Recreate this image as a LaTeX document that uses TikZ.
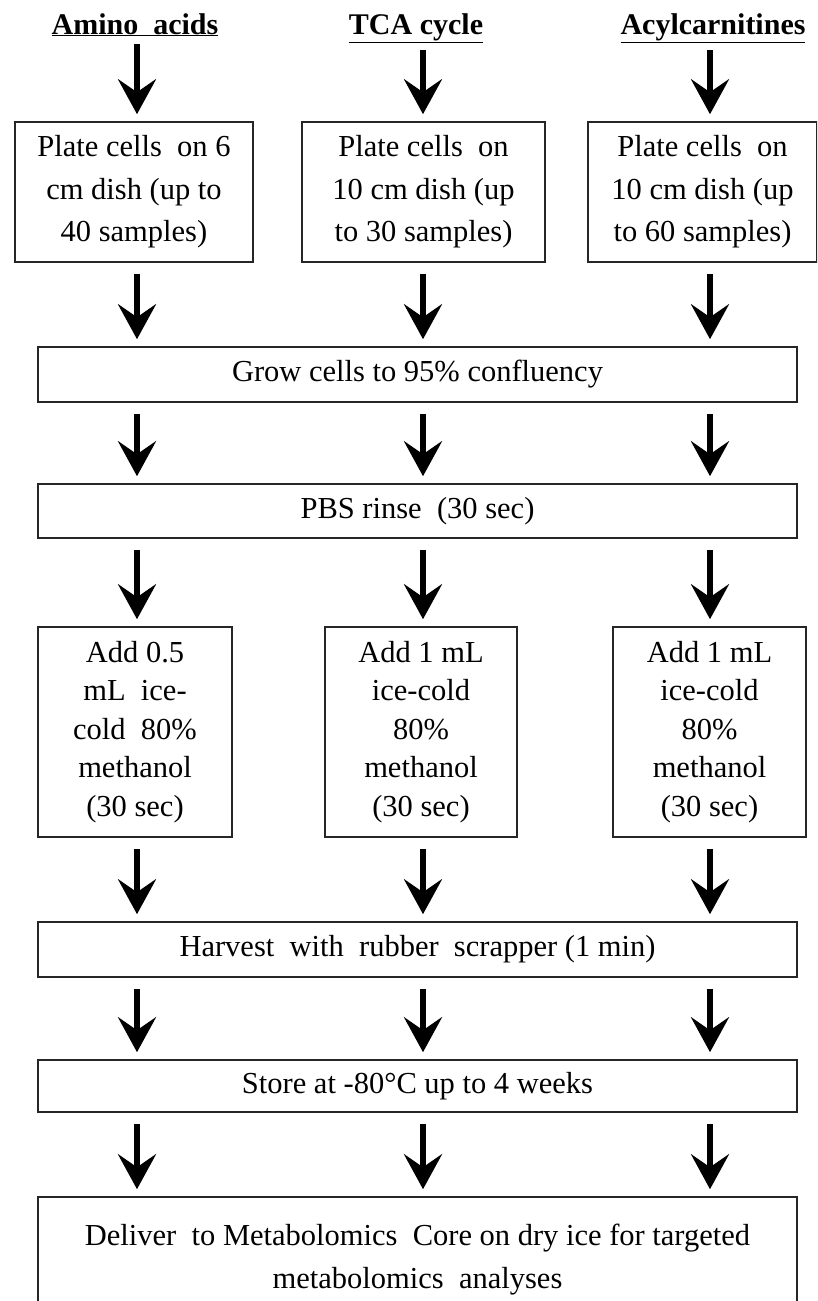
\documentclass[tikz,border=0pt]{standalone}
\usepackage{fontspec}
\setmainfont{Liberation Serif}
\usetikzlibrary{arrows.meta,calc}
\tikzset{
  stepbox/.style={draw=black!85, line width=1.6pt, rectangle, align=center, inner sep=0pt,
    font=\fontsize{30.5}{42.5}\selectfont},
  narrowbox/.style={stepbox, font=\fontsize{30.5}{38.5}\selectfont},
  header/.style={anchor=base, font=\fontsize{30}{32}\selectfont\bfseries},
  arr/.style={line width=6.5pt, -{Stealth[length=35pt,width=38pt,inset=13pt]}, shorten <=11pt, shorten >=7pt}
}
\begin{document}
\begin{tikzpicture}[x=1pt,y=-1pt]
\useasboundingbox (0,0) rectangle (817,1301);
\clip (0,0) rectangle (817,1301);
\fill[white] (0,0) rectangle (817,1301);
\coordinate (c1) at (137,0);
\coordinate (c2) at (423,0);
\coordinate (c3) at (710,0);
% headers
\node[header] (h1) at (135,34) {\underline{Amino\ \ acids}};
\node[header] (h2) at (416,34) {\underline{TCA cycle}};
\node[header] (h3) at (713,34) {\underline{Acylcarnitines}};
% top boxes
\node[stepbox, minimum width=238pt, minimum height=140pt] (p1) at (134,192) {Plate cells\ \ on 6\\cm dish (up to\\40 samples)};
\node[stepbox, minimum width=243pt, minimum height=140pt] (p2) at (423.5,192) {Plate cells\ \ on\\10 cm dish (up\\to 30 samples)};
\node[stepbox, minimum width=229pt, minimum height=140pt] (p3) at (702.5,192) {Plate cells\ \ on\\10 cm dish (up\\to 60 samples)};
% wide boxes
\node[stepbox, minimum width=759pt, minimum height=55pt] (grow) at (417.5,374.5) {Grow cells to 95\% confluency};
\node[stepbox, minimum width=759pt, minimum height=54pt] (pbs) at (417.5,511) {PBS rinse\ \ (30 sec)};
% add boxes
\node[narrowbox, minimum width=194pt, minimum height=210pt] (a1) at (135,732) {Add 0.5\\mL\ \ ice-\\cold\ \ 80\%\\methanol\\(30 sec)};
\node[narrowbox, minimum width=192pt, minimum height=210pt] (a2) at (421,732) {Add 1 mL\\ice-cold\\80\%\\methanol\\(30 sec)};
\node[narrowbox, minimum width=193pt, minimum height=210pt] (a3) at (709.5,732) {Add 1 mL\\ice-cold\\80\%\\methanol\\(30 sec)};
% lower boxes
\node[stepbox, minimum width=759pt, minimum height=55pt] (harv) at (417.5,949.5) {Harvest\ \ with\ \ rubber\ \ scrapper (1 min)};
\node[stepbox, minimum width=759pt, minimum height=52pt] (store) at (417.5,1086) {Store at -80\textdegree C up to 4 weeks};
\node[stepbox, minimum width=759pt, minimum height=125pt] (del) at (417.5,1259.5) {Deliver\ \ to Metabolomics\ \ Core on dry ice for targeted\\metabolomics\ \ analyses};
% arrows
\draw[arr, shorten <=4pt] (h1.south -| c1) -- (p1.north -| c1);
\draw[arr, shorten <=4pt] (h2.south -| c2) -- (p2.north -| c2);
\draw[arr, shorten <=4pt] (h3.south -| c3) -- (p3.north -| c3);
\draw[arr] (p1.south -| c1) -- (grow.north -| c1);
\draw[arr] (p2.south -| c2) -- (grow.north -| c2);
\draw[arr] (p3.south -| c3) -- (grow.north -| c3);
\foreach \c in {c1,c2,c3}{
  \draw[arr] (grow.south -| \c) -- (pbs.north -| \c);
  \draw[arr] (harv.south -| \c) -- (store.north -| \c);
  \draw[arr] (store.south -| \c) -- (del.north -| \c);
}
\draw[arr] (pbs.south -| c1) -- (a1.north -| c1);
\draw[arr] (pbs.south -| c2) -- (a2.north -| c2);
\draw[arr] (pbs.south -| c3) -- (a3.north -| c3);
\draw[arr] (a1.south -| c1) -- (harv.north -| c1);
\draw[arr] (a2.south -| c2) -- (harv.north -| c2);
\draw[arr] (a3.south -| c3) -- (harv.north -| c3);
\end{tikzpicture}
\end{document}
